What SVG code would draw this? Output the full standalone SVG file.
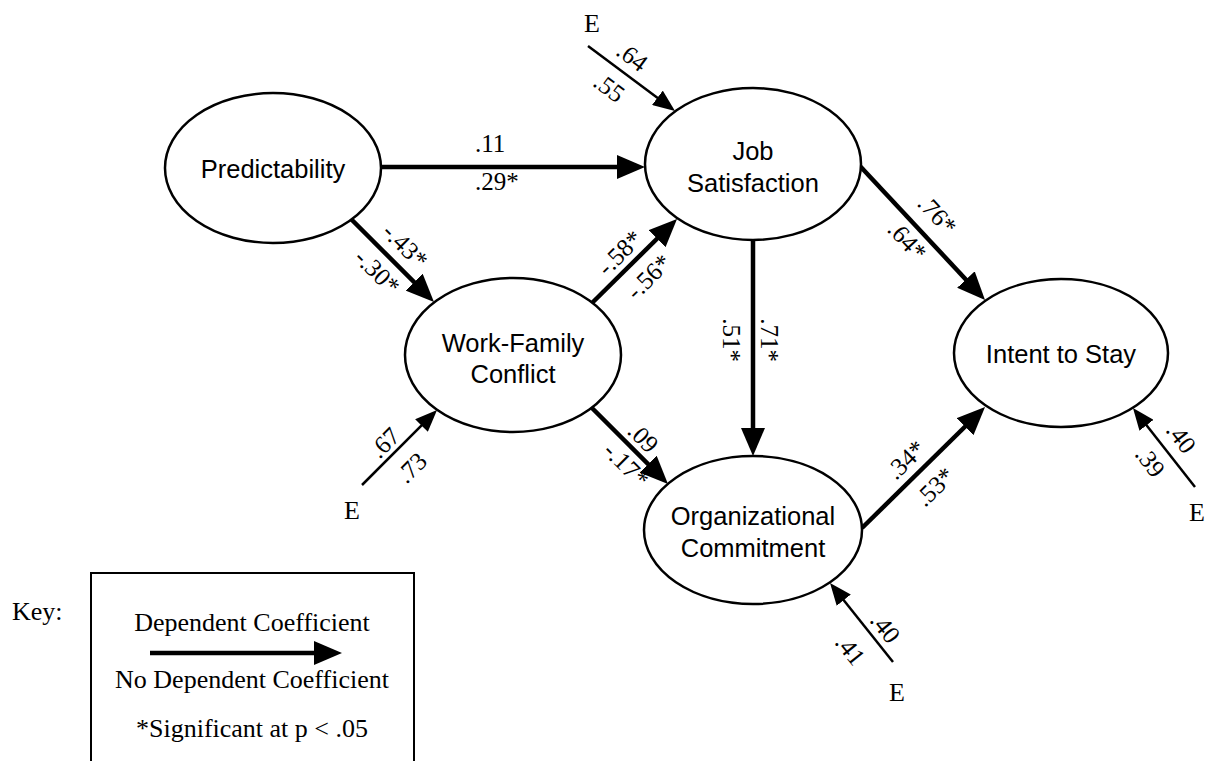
<svg xmlns="http://www.w3.org/2000/svg" width="1208" height="761" viewBox="0 0 1208 761">
<style>
.node ellipse{fill:#fff;stroke:#000;stroke-width:2.5}
.nl{font-family:"Liberation Sans",Arial,sans-serif;font-size:25.5px;text-anchor:middle;fill:#000}
.cf{font-family:"Liberation Serif","Times New Roman",serif;font-size:25px;text-anchor:middle;fill:#000}
.kt{font-family:"Liberation Serif","Times New Roman",serif;font-size:26px;fill:#000}
.main{stroke:#000;stroke-width:4.5;fill:none;marker-end:url(#ah)}
.err{stroke:#000;stroke-width:2.5;fill:none;marker-end:url(#eh)}
</style>
<defs>
<marker id="ah" markerUnits="userSpaceOnUse" markerWidth="28" markerHeight="24" viewBox="0 0 28 24" refX="18" refY="12" orient="auto"><path d="M0,0 L28,12 L0,24 z" fill="#000"/></marker>
<marker id="eh" markerUnits="userSpaceOnUse" markerWidth="22" markerHeight="18" viewBox="0 0 22 18" refX="15" refY="9" orient="auto"><path d="M0,0 L22,9 L0,18 z" fill="#000"/></marker>
</defs>
<rect width="1208" height="761" fill="#fff"/>
<g id="connectors">
<line class="main" x1="382" y1="167" x2="635" y2="167"/>
<line class="main" x1="350" y1="218" x2="426.9" y2="294.9"/>
<line class="main" x1="592" y1="303" x2="669.9" y2="226"/>
<line class="main" x1="592" y1="408" x2="660.9" y2="476.9"/>
<line class="main" x1="753" y1="240" x2="753" y2="446"/>
<line class="main" x1="859" y1="165" x2="978.2" y2="292.7"/>
<line class="main" x1="862" y1="528" x2="977.9" y2="414"/>
<line class="err" x1="588" y1="46" x2="669.4" y2="106.8"/>
<line class="err" x1="362" y1="485" x2="432.1" y2="414.9"/>
<line class="err" x1="893" y1="662" x2="834.4" y2="588.5"/>
<line class="err" x1="1195" y1="487" x2="1137.3" y2="413.5"/>
<text class="cf" x="475" y="152" style="text-anchor:start">.11</text>
<text class="cf" x="475" y="190" style="text-anchor:start">.29*</text>
<text class="cf" transform="translate(632,57) rotate(36.8)" y="8">.64</text>
<text class="cf" transform="translate(609,88) rotate(36.8)" y="8">.55</text>
<text class="cf" transform="translate(405,246) rotate(45)" y="8">-.43*</text>
<text class="cf" transform="translate(377,272) rotate(45)" y="8">-.30*</text>
<text class="cf" transform="translate(620,253) rotate(-44.6)" y="8">-.58*</text>
<text class="cf" transform="translate(649,277) rotate(-44.6)" y="8">-.56*</text>
<text class="cf" transform="translate(643,438) rotate(45)" y="8">.09</text>
<text class="cf" transform="translate(626,465) rotate(45)" y="8">-.17*</text>
<text class="cf" transform="translate(769,340) rotate(90)" y="8">.71*</text>
<text class="cf" transform="translate(731,340) rotate(90)" y="8">.51*</text>
<text class="cf" transform="translate(937,215) rotate(47.2)" y="8">.76*</text>
<text class="cf" transform="translate(907,241) rotate(47.2)" y="8">.64*</text>
<text class="cf" transform="translate(906,460) rotate(-44.5)" y="8">.34*</text>
<text class="cf" transform="translate(935,487) rotate(-44.5)" y="8">.53*</text>
<text class="cf" transform="translate(385,443) rotate(-45)" y="8">.67</text>
<text class="cf" transform="translate(412,468) rotate(-45)" y="8">.73</text>
<text class="cf" transform="translate(885,628) rotate(51.4)" y="8">.40</text>
<text class="cf" transform="translate(850,650) rotate(51.4)" y="8">.41</text>
<text class="cf" transform="translate(1181,438) rotate(52)" y="8">.40</text>
<text class="cf" transform="translate(1150,462) rotate(52)" y="8">.39</text>
</g>
<g id="predictability" class="node"><ellipse cx="273" cy="168" rx="108" ry="75"/><text class="nl" x="273" y="178">Predictability</text></g>
<g id="job-satisfaction" class="node"><ellipse cx="753" cy="164" rx="108" ry="76"/><text class="nl" x="753" y="160">Job</text><text class="nl" x="753" y="192">Satisfaction</text></g>
<g id="work-family-conflict" class="node"><ellipse cx="513" cy="355" rx="108" ry="77"/><text class="nl" x="513" y="352">Work-Family</text><text class="nl" x="513" y="383">Conflict</text></g>
<g id="organizational-commitment" class="node"><ellipse cx="753" cy="530" rx="109" ry="74"/><text class="nl" x="753" y="525">Organizational</text><text class="nl" x="753" y="557">Commitment</text></g>
<g id="intent-to-stay" class="node"><ellipse cx="1061" cy="353" rx="107" ry="74"/><text class="nl" x="1061" y="363">Intent to Stay</text></g>
<g id="e-js"><text class="kt" x="592" y="32" text-anchor="middle">E</text></g>
<g id="e-wfc"><text class="kt" x="352" y="519" text-anchor="middle">E</text></g>
<g id="e-oc"><text class="kt" x="897" y="701" text-anchor="middle">E</text></g>
<g id="e-its"><text class="kt" x="1197" y="521" text-anchor="middle">E</text></g>
<g id="key">
<text class="kt" x="12" y="620">Key:</text>
<rect x="91" y="573" width="323" height="200" fill="none" stroke="#000" stroke-width="2"/>
<text class="kt" x="252" y="631" text-anchor="middle">Dependent Coefficient</text>
<line x1="150" y1="653" x2="332" y2="653" stroke="#000" stroke-width="4.5" marker-end="url(#ah)"/>
<text class="kt" x="252" y="688" text-anchor="middle">No Dependent Coefficient</text>
<text class="kt" x="252" y="737" text-anchor="middle">*Significant at p &lt; .05</text>
</g>
</svg>
